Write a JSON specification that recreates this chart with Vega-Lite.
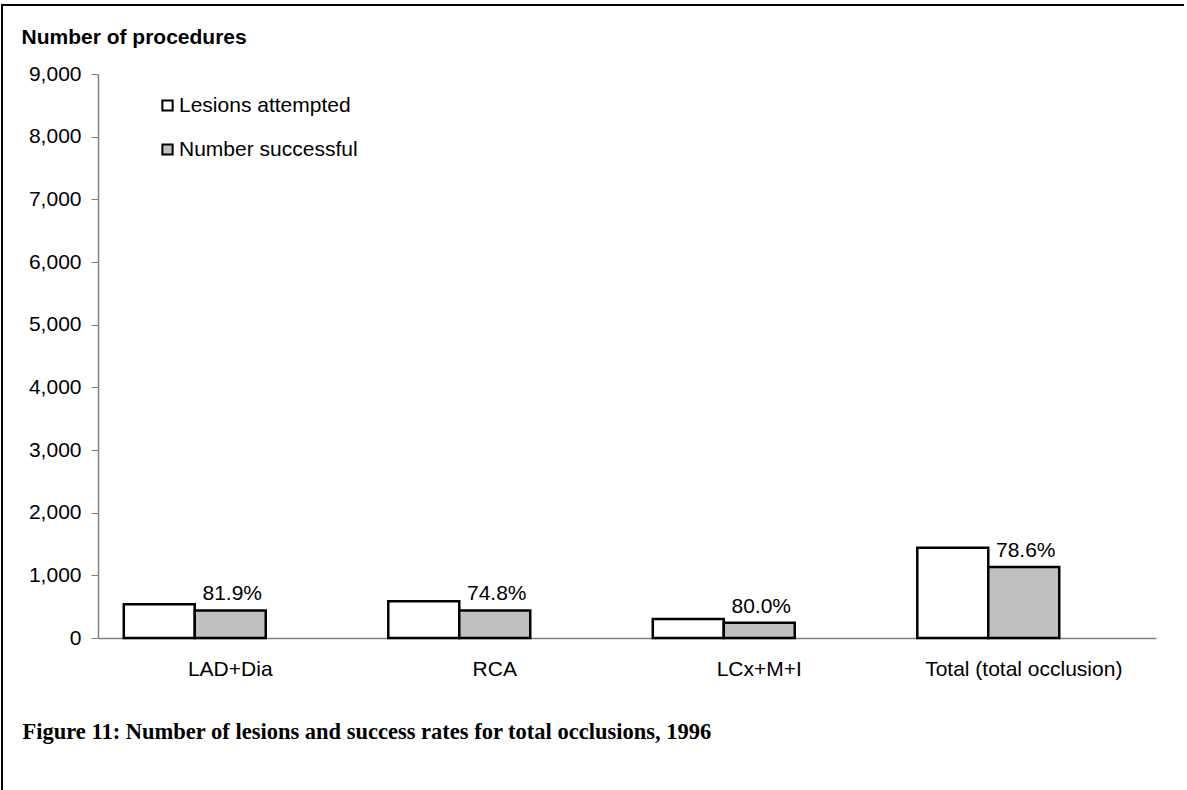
{
  "$schema": "https://vega.github.io/schema/vega-lite/v6.json",
  "width": 1185,
  "height": 785,
  "autosize": {"type": "none"},
  "padding": {"left": 2, "top": 5, "right": 0, "bottom": 0},
  "background": "white",
  "config": {
    "view": {
      "stroke": "black",
      "strokeWidth": 2,
      "strokeDash": [1182, 1973, 785]
    },
    "font": "Liberation Sans"
  },
  "data": {
    "values": [
      {"vessel": "LAD+Dia", "series": "Lesions attempted", "count": 537},
      {"vessel": "LAD+Dia", "series": "Number successful", "count": 440, "rate": 0.819},
      {"vessel": "RCA", "series": "Lesions attempted", "count": 588},
      {"vessel": "RCA", "series": "Number successful", "count": 440, "rate": 0.748},
      {"vessel": "LCx+M+I", "series": "Lesions attempted", "count": 305},
      {"vessel": "LCx+M+I", "series": "Number successful", "count": 244, "rate": 0.8},
      {"vessel": "Total (total occlusion)", "series": "Lesions attempted", "count": 1440},
      {"vessel": "Total (total occlusion)", "series": "Number successful", "count": 1132, "rate": 0.786}
    ]
  },
  "encoding": {
    "x": {
      "field": "vessel",
      "type": "nominal",
      "sort": ["LAD+Dia", "RCA", "LCx+M+I", "Total (total occlusion)"],
      "scale": {"range": [96, 1154], "paddingInner": 0.195, "paddingOuter": 0.0975},
      "axis": {
        "offset": -152,
        "title": "Figure 11: Number of lesions and success rates for total occlusions, 1996",
        "titleFont": "Liberation Serif",
        "titleFontSize": 22.5,
        "titleFontWeight": "bold",
        "titleColor": "black",
        "titleAlign": "left",
        "titleBaseline": "alphabetic",
        "titleX": 20,
        "titleY": 100,
        "titleLimit": 0,
        "labelAngle": 0,
        "labelLimit": 0,
        "ticks": false,
        "domainColor": "#808080",
        "domainWidth": 1.5,
        "labelFont": "Liberation Sans",
        "labelFontSize": 21,
        "labelColor": "black",
        "labelPadding": 20
      }
    },
    "xOffset": {
      "field": "series",
      "type": "nominal",
      "scale": {
        "domain": ["Lesions attempted", "Number successful", "spacer"],
        "paddingInner": 0,
        "paddingOuter": 0
      }
    },
    "y": {
      "field": "count",
      "type": "quantitative",
      "scale": {"domain": [0, 9000], "nice": false, "range": [633, 69]},
      "axis": {
        "offset": -96,
        "title": "Number of procedures",
        "titleAngle": 0,
        "titleAlign": "left",
        "titleBaseline": "middle",
        "titleX": -77,
        "titleY": 32,
        "titleFont": "Liberation Sans",
        "titleFontSize": 21,
        "titleFontWeight": "bold",
        "titleColor": "black",
        "titleLimit": 0,
        "values": [0, 1000, 2000, 3000, 4000, 5000, 6000, 7000, 8000, 9000],
        "format": ",.0f",
        "grid": false,
        "tickSize": 7,
        "tickColor": "#808080",
        "domainColor": "#808080",
        "domainWidth": 1.5,
        "labelFont": "Liberation Sans",
        "labelFontSize": 21,
        "labelColor": "black",
        "labelPadding": 10
      }
    }
  },
  "layer": [
    {
      "mark": {"type": "bar", "stroke": "black", "strokeWidth": 2.5},
      "encoding": {
        "fill": {
          "field": "series",
          "type": "nominal",
          "scale": {
            "domain": ["Lesions attempted", "Number successful"],
            "range": ["white", "#C0C0C0"]
          },
          "legend": {
            "title": null,
            "orient": "none",
            "legendX": 155,
            "legendY": 90,
            "padding": 0,
            "symbolType": "square",
            "symbolSize": 105,
            "symbolStrokeColor": "black",
            "symbolStrokeWidth": 2,
            "labelFont": "Liberation Sans",
            "labelFontSize": 21,
            "labelColor": "black",
            "labelLimit": 0,
            "labelOffset": 1,
            "rowPadding": 22
          }
        }
      }
    },
    {
      "transform": [{"filter": "datum.rate != null"}],
      "mark": {
        "type": "text",
        "baseline": "alphabetic",
        "dy": -10,
        "dx": 2,
        "font": "Liberation Sans",
        "fontSize": 21,
        "color": "black"
      },
      "encoding": {
        "text": {"field": "rate", "type": "quantitative", "format": ".1%"}
      }
    }
  ]
}
